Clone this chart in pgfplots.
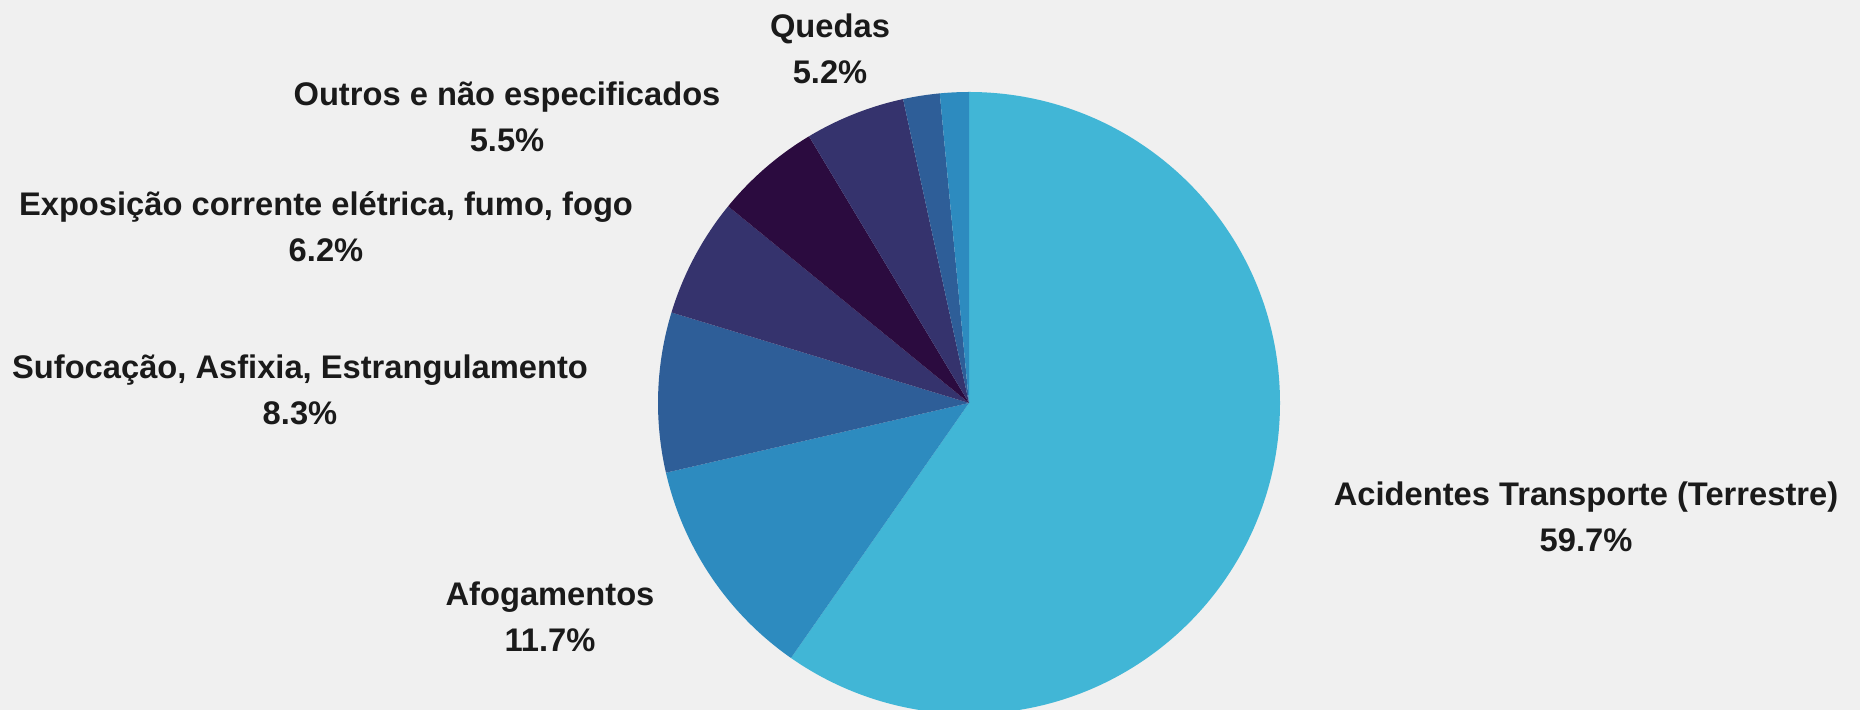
\documentclass[border=0pt]{standalone}
\usepackage{pgfplots}
\usepackage{pgfplotstable}
\pgfplotsset{compat=1.18}
\usepackage{fontspec}
\setmainfont{Liberation Sans}
\definecolor{bg}{HTML}{F0F0F0}
\definecolor{c1}{HTML}{41B6D6}
\definecolor{c2}{HTML}{2D8BBF}
\definecolor{c3}{HTML}{2E5E98}
\definecolor{c4}{HTML}{35336D}
\definecolor{c5}{HTML}{2B0B3F}
\definecolor{txt}{HTML}{1A1A1A}
\tikzset{lbl/.style={font=\bfseries\fontsize{9.3}{13.1}\selectfont, text=txt, align=center, inner sep=0pt}}
\pgfplotstableread{
value color
59.7 c1
11.7 c2
8.3 c3
6.2 c4
5.5 c5
5.2 c4
1.9 c3
1.5 c2
}\piedata
\begin{document}
\begin{tikzpicture}
\begin{axis}[x=0.1mm,y=0.1mm,xmin=0,xmax=1860,ymin=0,ymax=710,hide axis,clip=true]
\fill[bg] (axis cs:0,0) rectangle (axis cs:1860,710);
\pgfplotstablegetrowsof{\piedata}
\pgfmathtruncatemacro\N{\pgfplotsretval-1}
\def\cum{0}
\pgfplotsforeachungrouped \i in {0,...,\N}{%
  \pgfplotstablegetelem{\i}{value}\of\piedata \let\v\pgfplotsretval
  \pgfplotstablegetelem{\i}{color}\of\piedata \let\c\pgfplotsretval
  \pgfmathsetmacro\a{90-3.6*\cum}%
  \pgfmathsetmacro\b{90-3.6*(\cum+\v)}%
  \edef\temp{\noexpand\fill[\c] (axis cs:969,307) -- ++(\a:3.11cm) arc[start angle=\a, end angle=\b, radius=3.11cm] -- cycle;}%
  \temp
  \pgfmathsetmacro\cum{\cum+\v}%
}
\node[lbl] at (axis cs:830,{710-48.5}) {Quedas\\5.2\%};
\node[lbl] at (axis cs:507,{710-116.5}) {Outros e não especificados\\5.5\%};
\node[lbl] at (axis cs:326,{710-226.5}) {Exposição corrente elétrica, fumo, fogo\\6.2\%};
\node[lbl] at (axis cs:300,{710-389.5}) {Sufocação, Asfixia, Estrangulamento\\8.3\%};
\node[lbl] at (axis cs:550,{710-616.5}) {Afogamentos\\11.7\%};
\node[lbl] at (axis cs:1586,{710-516.5}) {Acidentes Transporte (Terrestre)\\59.7\%};
\end{axis}
\end{tikzpicture}
\end{document}
